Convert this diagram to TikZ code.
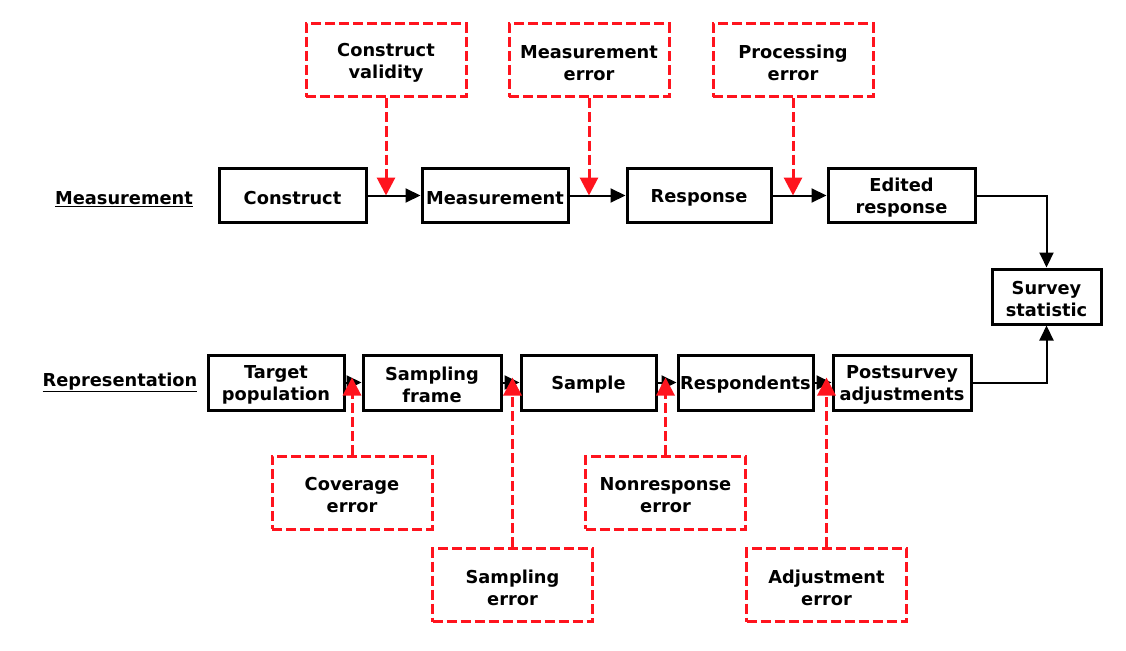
\documentclass[tikz,border=0pt]{standalone}
\usepackage{fontspec}
\setmainfont{DejaVu Sans}
\usetikzlibrary{arrows.meta}
\definecolor{errred}{RGB}{255,20,30}
\newcommand\mystrut{\rule{0pt}{18.5pt}}
\tikzset{
  every node/.style={font=\bfseries\fontsize{17.8}{22}\selectfont, align=center, inner sep=0pt},
  blkbox/.style={draw=black, line width=3pt, minimum height=54pt, fill=white},
  errbox/.style={draw=errred, line width=3pt, dash pattern=on 10pt off 4pt, minimum width=160pt, minimum height=73pt},
  blkarrow/.style={draw=black, line width=2pt, -{Triangle[length=15pt,width=14pt]}},
  redarrow/.style={draw=errred, line width=3pt, dash pattern=on 10pt off 4pt, -{Triangle[length=18pt,width=18pt]}},
  rowlabel/.style={}
}
\begin{document}
\begin{tikzpicture}[x=1pt,y=-1pt]
\useasboundingbox (0,0) rectangle (1126,650);
% left labels
\node[rowlabel] (lblm) at (124,196) {\mystrut\underline{Measurement}};
\node[rowlabel] (lblr) at (120,380) {\mystrut\underline{Representation}};
% measurement row
\node[blkbox, minimum width=147pt] (construct) at (292.5,195.5) {\mystrut Construct};
\node[blkbox, minimum width=146pt] (measurement) at (495,195.5) {\mystrut Measurement};
\node[blkbox, minimum width=144pt] (response) at (699,195.5) {\mystrut Response};
\node[blkbox, minimum width=147pt] (edited) at (901.5,195.5) {\mystrut Edited\\response};
\node[blkbox, minimum width=109pt, minimum height=55pt] (survey) at (1046.5,296.5) {\mystrut Survey\\statistic};
% representation row
\node[blkbox, minimum width=136pt, minimum height=55pt] (target) at (276,382.5) {\mystrut Target\\population};
\node[blkbox, minimum width=138pt, minimum height=55pt] (frame) at (432,382.5) {\mystrut Sampling\\frame};
\node[blkbox, minimum width=135pt, minimum height=55pt] (sample) at (588.5,382.5) {\mystrut Sample};
\node[blkbox, minimum width=135pt, minimum height=55pt] (resp) at (745.5,382.5) {\mystrut Respondents};
\node[blkbox, minimum width=138pt, minimum height=55pt] (post) at (902,382.5) {\mystrut Postsurvey\\adjustments};
% error boxes
\node[errbox] (cv) at (386,60.5) {\mystrut Construct\\validity};
\node[errbox] (me) at (589,60.5) {\mystrut Measurement\\error};
\node[errbox] (pe) at (793,60.5) {\mystrut Processing\\error};
\node[errbox] (ce) at (352,492.5) {\mystrut Coverage\\error};
\node[errbox] (ne) at (665.5,492.5) {\mystrut Nonresponse\\error};
\node[errbox] (se) at (512.5,585) {\mystrut Sampling\\error};
\node[errbox] (ae) at (826.5,585) {\mystrut Adjustment\\error};
% black connectors
\draw[blkarrow] (construct) -- (measurement);
\draw[blkarrow] (measurement) -- (response);
\draw[blkarrow] (response) -- (edited);
\draw[blkarrow] (edited.east) -| (survey.north);
\draw[blkarrow] (target) -- (frame);
\draw[blkarrow] (frame) -- (sample);
\draw[blkarrow] (sample) -- (resp);
\draw[blkarrow] (resp) -- (post);
\draw[blkarrow] (post.east) -| (survey.south);
% red arrow tips
\path (ce.north |- target.east) ++(0,-5) coordinate (cetip);
\path (se.north |- frame.east) ++(0,-5) coordinate (setip);
\path (ne.north |- sample.east) ++(0,-5) coordinate (netip);
\path (ae.north |- resp.east) ++(0,-5) coordinate (aetip);
\draw[redarrow] (cv.south) -- (cv.south |- construct.east);
\draw[redarrow] (me.south) -- (me.south |- measurement.east);
\draw[redarrow] (pe.south) -- (pe.south |- response.east);
\draw[redarrow] (ce.north) -- (cetip);
\draw[redarrow] (se.north) -- (setip);
\draw[redarrow] (ne.north) -- (netip);
\draw[redarrow] (ae.north) -- (aetip);
\end{tikzpicture}
\end{document}
